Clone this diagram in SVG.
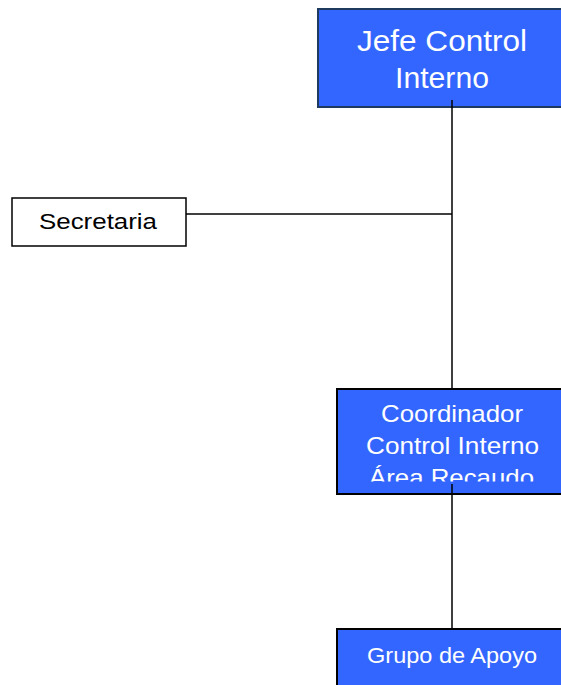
<svg xmlns="http://www.w3.org/2000/svg" width="561" height="685" viewBox="0 0 561 685">
<style>
.blue{fill:#3366FF;stroke:#000;stroke-width:2}
.top{fill:#3366FF;stroke:#1F3A5F;stroke-width:2}
.white{fill:#fff;stroke:#000;stroke-width:1.5}
text{font-family:"Liberation Sans",Arial,sans-serif;text-anchor:middle}
.wt{fill:#fff}
.line{stroke:#000;stroke-width:1.5;fill:none}
</style>
<defs>
<clipPath id="cc"><rect x="337" y="389" width="230" height="92.5"/></clipPath>
</defs>
<rect width="561" height="685" fill="#fff"/>
<g id="jefe">
<rect class="top" x="318" y="9" width="250" height="98"/>
<text class="wt" x="442" y="51" font-size="29" textLength="170" lengthAdjust="spacingAndGlyphs">Jefe Control</text>
<text class="wt" x="442" y="88" font-size="29" textLength="94" lengthAdjust="spacingAndGlyphs">Interno</text>
</g>
<g id="secretaria">
<rect class="white" x="12" y="198" width="174" height="48"/>
<text x="98" y="229" font-size="22" textLength="118" lengthAdjust="spacingAndGlyphs">Secretaria</text>
</g>
<g id="coordinador">
<rect class="blue" x="337" y="389" width="230" height="105"/>
<g clip-path="url(#cc)">
<text class="wt" x="452" y="422" font-size="24" textLength="142" lengthAdjust="spacingAndGlyphs">Coordinador</text>
<text class="wt" x="452.5" y="454" font-size="24" textLength="173" lengthAdjust="spacingAndGlyphs">Control Interno</text>
<text class="wt" x="451.5" y="486" font-size="24" textLength="165" lengthAdjust="spacingAndGlyphs">Área Recaudo</text>
</g>
</g>
<g id="grupo">
<rect class="blue" x="337" y="629" width="230" height="60"/>
<text class="wt" x="452" y="662.5" font-size="22" textLength="170" lengthAdjust="spacingAndGlyphs">Grupo de Apoyo</text>
</g>
<g id="connectors">
<line class="line" x1="452" y1="100" x2="452" y2="389"/>
<line class="line" x1="186" y1="214" x2="452" y2="214"/>
<line class="line" x1="452" y1="484" x2="452" y2="629"/>
</g>
</svg>
